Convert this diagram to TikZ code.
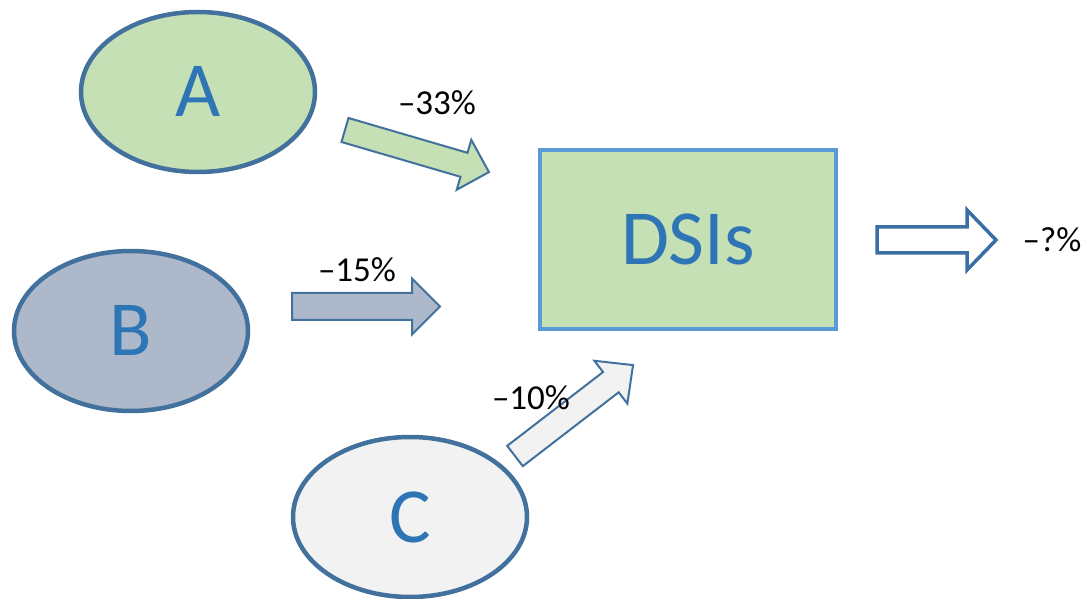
\documentclass[tikz,border=0pt]{standalone}
\usepackage{fontspec}
\setmainfont{Carlito}
\usetikzlibrary{shapes.geometric}
\definecolor{edgeblue}{HTML}{41719C}
\definecolor{txtblue}{HTML}{2E75B6}
\definecolor{rectblue}{HTML}{5B9BD5}
\definecolor{outblue}{HTML}{3A6EA5}
\definecolor{fillA}{HTML}{C5E0B4}
\definecolor{fillB}{HTML}{ADB9CA}
\definecolor{fillC}{HTML}{F2F2F2}
\tikzset{
  blob/.style={ellipse, draw=edgeblue, line width=4.5pt, minimum width=234pt, minimum height=160pt,
    inner sep=0pt, text=txtblue, font=\fontsize{78}{80}\selectfont, text height=50pt, text depth=0pt},
  pct/.style={anchor=base, inner sep=0pt, font=\fontsize{35}{37}\selectfont, text=black},
  pics/barrow/.style n args={4}{code={
    \draw[pic actions] (0,-#2) -- (#1-#4,-#2) -- (#1-#4,-#3) -- (#1,0) -- (#1-#4,#3) -- (#1-#4,#2) -- (0,#2) -- cycle;}},
  inarrow/.style={draw=edgeblue, line width=2pt, line join=miter}
}
\begin{document}
\begin{tikzpicture}[x=1pt,y=1pt]
\useasboundingbox (0,0) rectangle (1088,598);
\fill[white] (0,0) rectangle (1088,598);
% nodes
\node[blob, fill=fillA] (A) at (198,506) {A};
\node[blob, fill=fillB] (B) at (131,267) {B};
\node[blob, fill=fillC] (C) at (410,81) {C};
\node[draw=rectblue, fill=fillA, line width=4pt, minimum width=296pt, minimum height=179pt, inner sep=0pt,
  text=txtblue, font=\fontsize{78}{80}\selectfont, text height=50pt, text depth=0pt] (D) at (688,358.5) {DSIs};
% block arrows
\pic[inarrow, fill=fillA, rotate=-16.3] (arrA) at (345,468) {barrow={150}{12.5}{26}{26}};
\pic[inarrow, fill=fillB] (arrB) at (292,291.5) {barrow={148}{13.5}{28}{28}};
\pic[inarrow, fill=fillC, rotate=37.6] (arrC) at (515,142) {barrow={149}{12.8}{27}{28}};
\pic[draw=outblue, line width=3.5pt, fill=white, line join=miter] (arrOut) at (877,358) {barrow={119}{13}{30}{29}};
% labels
\node[pct] (lA) at (437,483) {–33\%};
\node[pct] (lB) at (357,316) {–15\%};
\node[pct] (lC) at (531,189) {–10\%};
\node[pct] (lOut) at (1052,346) {–?\%};
\end{tikzpicture}
\end{document}
